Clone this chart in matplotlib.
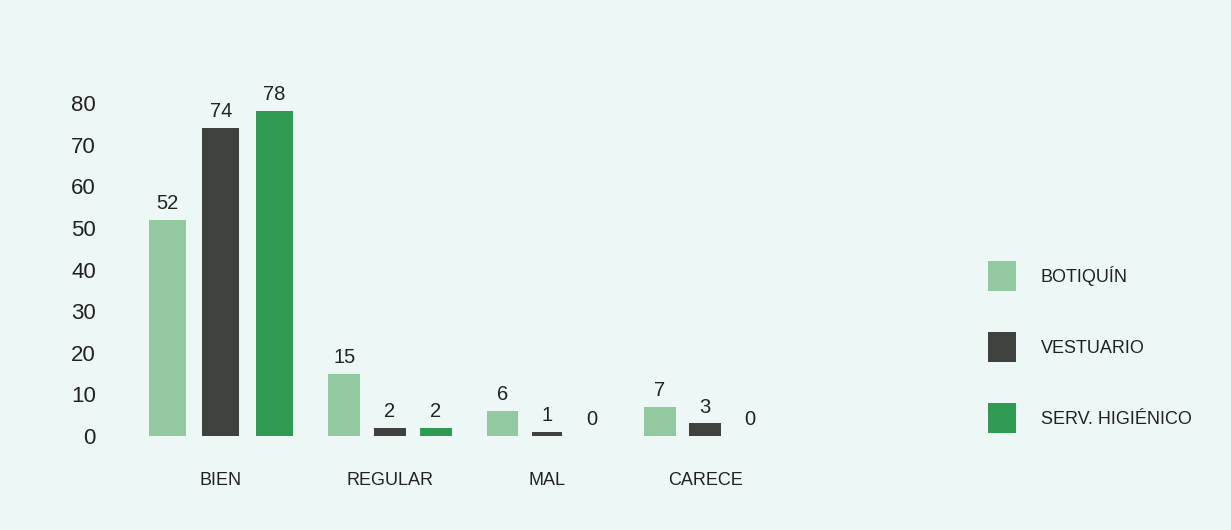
import matplotlib
matplotlib.use("Agg")
import matplotlib.pyplot as plt
import numpy as np

categorias = ["BIEN", "REGULAR", "MAL", "CARECE"]
series = ["BOTIQUÍN", "VESTUARIO", "SERV. HIGIÉNICO"]
botiquin = [52, 15, 6, 7]
vestuario = [74, 2, 1, 3]
serv_higienico = [78, 2, 0, 0]
yticks = [0, 10, 20, 30, 40, 50, 60, 70, 80]

plt.rcParams["font.family"] = ["Liberation Sans", "DejaVu Sans"]

fondo = "#edf8f6"
colores = ["#93c9a1", "#3f423e", "#2f9a52"]
texto = "#222222"

fig = plt.figure(figsize=(12.31, 5.30), dpi=100, facecolor=fondo)
ax = fig.add_axes([0.0812, 0.1617, 0.6986, 0.683])
ax.set_facecolor(fondo)

# el primer grupo va algo más ancho que los demás
x = np.array([0.0, 1.048, 2.02, 3.0])
sep = np.array([0.332, 0.284, 0.276, 0.28])
ancho = np.array([0.229, 0.198, 0.19, 0.198])
for i, (vals, col) in enumerate(zip([botiquin, vestuario, serv_higienico], colores)):
    bars = ax.bar(x + (i - 1) * sep, vals, width=ancho, color=col, label=series[i])
    ax.bar_label(bars, labels=[str(v) for v in vals], padding=5, fontsize=14.5, color=texto)

ax.set_xlim(-0.75, 4.58)
ax.set_ylim(-2, 85)
ax.set_yticks(yticks)
ax.set_yticklabels([str(t) for t in yticks], fontsize=16, color=texto)
ax.set_xticks(x)
ax.set_xticklabels(categorias, fontsize=13, color=texto)
ax.tick_params(axis="both", length=0)
ax.tick_params(axis="y", pad=3)
ax.tick_params(axis="x", pad=20)
for s in ax.spines.values():
    s.set_visible(False)

fig.legend(loc="upper left", bbox_to_anchor=(0.789, 0.538), frameon=False,
           fontsize=13, handlelength=1.6, handleheight=2.15, labelspacing=2.3,
           handletextpad=1.35, labelcolor=texto)

fig.savefig("out.png", dpi=100, facecolor=fondo)
